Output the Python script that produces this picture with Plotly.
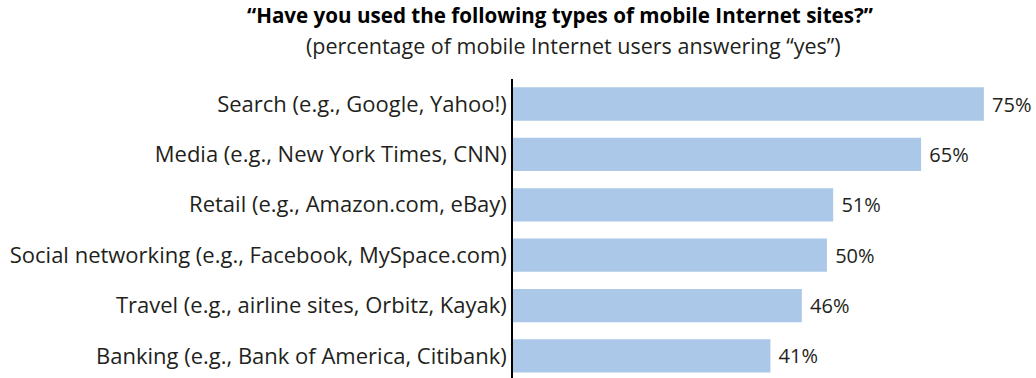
import plotly.graph_objects as go

categories = [
    "Search (e.g., Google, Yahoo!)",
    "Media (e.g., New York Times, CNN)",
    "Retail (e.g., Amazon.com, eBay)",
    "Social networking (e.g., Facebook, MySpace.com)",
    "Travel (e.g., airline sites, Orbitz, Kayak)",
    "Banking (e.g., Bank of America, Citibank)",
]
values = [75, 65, 51, 50, 46, 41]
value_labels = [f" {v}%" for v in values]

title = "\u201cHave you used the following types of mobile Internet sites?\u201d"
subtitle = "(percentage of mobile Internet users answering \u201cyes\u201d)"

FONT = "Open Sans"
TXT = "#231f20"

fig = go.Figure(go.Bar(
    y=categories, x=values, orientation="h",
    marker=dict(color="#abc8e9", line=dict(width=0)),
    width=0.66,
    text=value_labels, textposition="outside",
    textfont=dict(family=FONT, size=20, color=TXT),
    constraintext="none",
    cliponaxis=False,
))

fig.update_layout(
    width=1036, height=378,
    margin=dict(l=513, r=0, t=79, b=0),
    paper_bgcolor="white", plot_bgcolor="white",
    showlegend=False,
    font=dict(family=FONT, color=TXT),
    xaxis=dict(range=[0, 83.3], visible=False, fixedrange=True),
    yaxis=dict(
        categoryorder="array", categoryarray=categories,
        range=[5.437, -0.496],
        showline=True, linecolor="black", linewidth=1.5,
        ticks="", showgrid=False, zeroline=False,
        tickfont=dict(family=FONT, size=22, color=TXT),
        ticklabelstandoff=0,
    ),
    annotations=[
        dict(text=f"<b>{title}</b>", x=0.542, y=15, xref="paper", yref="paper",
             showarrow=False, font=dict(family=FONT, size=20.6, color="black"),
             xanchor="center", yanchor="middle"),
        dict(text=subtitle, x=0.55, y=45, xref="paper", yref="paper",
             showarrow=False, font=dict(family=FONT, size=21.5, color=TXT),
             xanchor="center", yanchor="middle"),
    ],
)
# convert pixel positions for annotations into paper coords
ph = 378 - 79
pw = 1036 - 513
for a in fig.layout.annotations:
    a.y = 1 + (79 - a.y) / ph
fig.layout.annotations[0].x = (560 - 513) / pw
fig.layout.annotations[1].x = (573 - 513) / pw

fig.write_html("out.html")
